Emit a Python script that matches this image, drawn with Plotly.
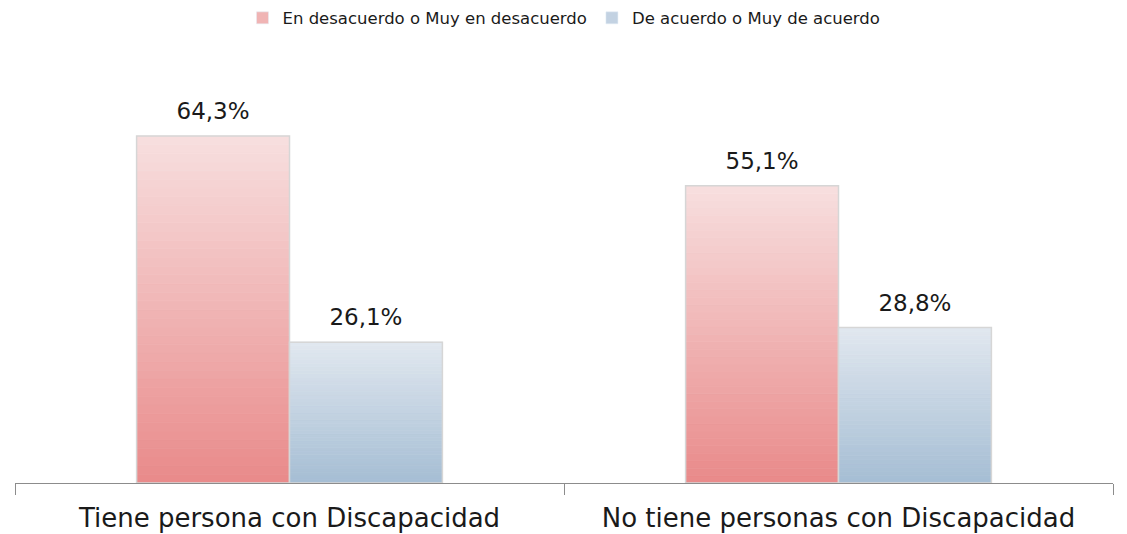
import plotly.graph_objects as go

categories = ["Tiene persona con Discapacidad", "No tiene personas con Discapacidad"]
series_names = ["En desacuerdo o Muy en desacuerdo", "De acuerdo o Muy de acuerdo"]
desacuerdo = [64.3, 55.1]
acuerdo = [26.1, 28.8]

# gradient endpoints (top, bottom) per series
grad = {
    "a": ((247, 222, 222), (233, 139, 139)),
    "b": ((224, 231, 239), (166, 190, 212)),
}
N = 40
FONT = "DejaVu Sans"


def mix(c1, c2, t):
    return "rgb(%d,%d,%d)" % tuple(round(c1[i] + (c2[i] - c1[i]) * t) for i in range(3))


fig = go.Figure()

for key, name, vals in (("a", series_names[0], desacuerdo), ("b", series_names[1], acuerdo)):
    top, bot = grad[key]
    # gradient segments
    for i in range(N):
        t = i / (N - 1)
        c = mix(bot, top, t)
        fig.add_trace(go.Bar(
            x=categories,
            y=[v / N for v in vals],
            base=[v * i / N for v in vals],
            offsetgroup=key,
            marker=dict(color=c, line=dict(width=0.8, color=c)),
            showlegend=False,
            hoverinfo="skip",
        ))
    # outline
    fig.add_trace(go.Bar(
        x=categories,
        y=vals,
        name=name,
        offsetgroup=key,
        marker=dict(color="rgba(0,0,0,0)", line=dict(color="#D6D6D6", width=1.5)),
        showlegend=False,
    ))
    # value labels
    fig.add_trace(go.Scatter(
        x=categories,
        y=vals,
        offsetgroup=key,
        mode="markers+text",
        marker=dict(size=16, opacity=0),
        text=["%s%%" % ("%.1f" % v).replace(".", ",") for v in vals],
        textposition="top center",
        textfont=dict(family=FONT, size=23, color="#1a1a1a"),
        cliponaxis=False,
        showlegend=False,
        hoverinfo="skip",
    ))
    # legend proxy
    fig.add_trace(go.Bar(
        x=[None], y=[None], name=name,
        marker=dict(color=mix(bot, top, 0.5)),
        showlegend=True,
    ))

fig.update_layout(
    width=1111, height=526,
    barmode="group",
    scattermode="group",
    bargap=0.443,
    bargroupgap=0,
    scattergap=0.443,
    separators=",.",
    plot_bgcolor="white",
    paper_bgcolor="white",
    margin=dict(l=7, r=6, t=52, b=51, autoexpand=False),
    font=dict(family=FONT, color="#1a1a1a"),
    legend=dict(
        orientation="h", x=0.5, xanchor="center", y=1.099, yanchor="middle",
        font=dict(size=16.5, color="#1a1a1a"),
        itemwidth=30,
    ),
    xaxis=dict(
        showline=True, linecolor="#8c8c8c", linewidth=1,
        ticks="outside", tickson="boundaries", ticklen=11, tickcolor="#8c8c8c",
        tickfont=dict(size=26, color="#1a1a1a"),
        ticklabelstandoff=12,
        automargin=False,
        showgrid=False,
    ),
    yaxis=dict(range=[0, 78.4], visible=False, showgrid=False, automargin=False),
)

fig.write_html("out.html")
